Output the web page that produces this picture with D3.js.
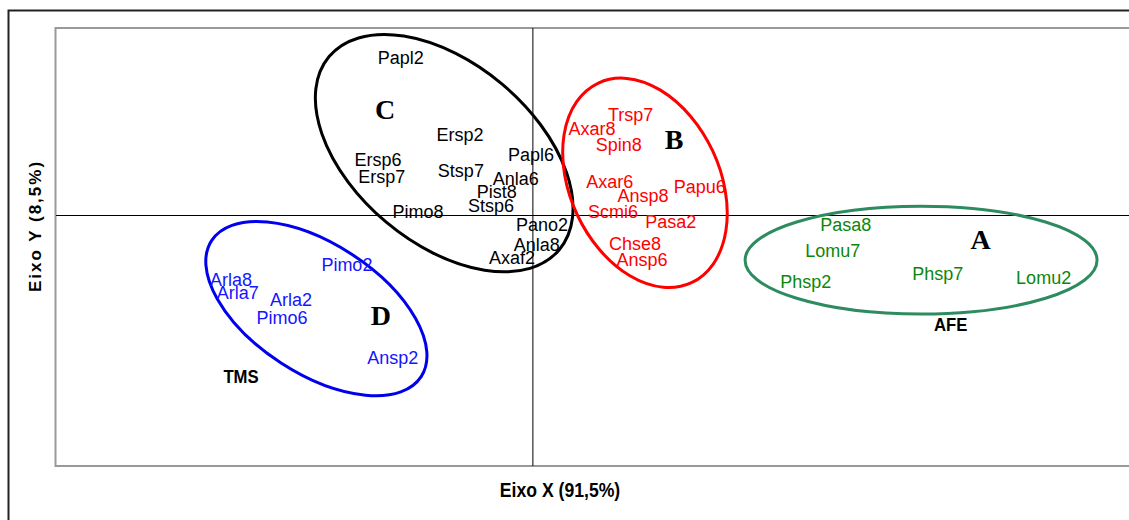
<!DOCTYPE html>
<html>
<head>
<meta charset="utf-8">
<script src="https://cdn.jsdelivr.net/npm/d3@7/dist/d3.min.js"></script>
<style>
  html, body { margin: 0; padding: 0; background: #fff; }
  svg { display: block; }
</style>
</head>
<body>
<svg id="chart" width="1129" height="520"></svg>
<script>
// Ordination scores (axis 1 = Eixo X, axis 2 = Eixo Y) for each species label
const groupC = [
  { name: "Papl2", x: -0.277, y: 0.504 },
  { name: "Ersp2", x: -0.153, y: 0.258 },
  { name: "Ersp6", x: -0.325, y: 0.178 },
  { name: "Ersp7", x: -0.317, y: 0.124 },
  { name: "Stsp7", x: -0.151, y: 0.143 },
  { name: "Papl6", x: -0.004, y: 0.194 },
  { name: "Anla6", x: -0.036, y: 0.117 },
  { name: "Pist8", x: -0.076, y: 0.076 },
  { name: "Stsp6", x: -0.088, y: 0.031 },
  { name: "Pimo8", x: -0.241, y: 0.012 },
  { name: "Pano2", x: 0.019, y: -0.030 },
  { name: "Anla8", x: 0.008, y: -0.094 },
  { name: "Axaf2", x: -0.044, y: -0.135 }
];
const groupB = [
  { name: "Trsp7", x: 0.205, y: 0.322 },
  { name: "Axar8", x: 0.124, y: 0.277 },
  { name: "Spin8", x: 0.180, y: 0.226 },
  { name: "Axar6", x: 0.161, y: 0.108 },
  { name: "Ansp8", x: 0.231, y: 0.063 },
  { name: "Papu6", x: 0.350, y: 0.092 },
  { name: "Scmi6", x: 0.168, y: 0.012 },
  { name: "Pasa2", x: 0.289, y: -0.020 },
  { name: "Chse8", x: 0.214, y: -0.090 },
  { name: "Ansp6", x: 0.229, y: -0.142 }
];
const groupA = [
  { name: "Pasa8", x: 0.656, y: -0.030 },
  { name: "Lomu7", x: 0.629, y: -0.113 },
  { name: "Phsp2", x: 0.572, y: -0.212 },
  { name: "Phsp7", x: 0.849, y: -0.186 },
  { name: "Lomu2", x: 1.071, y: -0.199 }
];
const groupD = [
  { name: "Pimo2", x: -0.390, y: -0.158 },
  { name: "Arla8", x: -0.633, y: -0.206 },
  { name: "Arla7", x: -0.619, y: -0.247 },
  { name: "Arla2", x: -0.507, y: -0.269 },
  { name: "Pimo6", x: -0.526, y: -0.327 },
  { name: "Ansp2", x: -0.294, y: -0.455 }
];

// Group letters and environment labels
const groupLetters = [
  { name: "C", x: -0.310, y: 0.341 },
  { name: "B", x: 0.296, y: 0.245 },
  { name: "A", x: 0.939, y: -0.074 },
  { name: "D", x: -0.319, y: -0.317 }
];
const envLabels = [
  { name: "AFE", x: 0.876, y: -0.346 },
  { name: "TMS", x: -0.612, y: -0.512 }
];

// Enclosing ellipses: centre in scores, semi-axes in axis-1 units, tilt in degrees
const groupEllipses = [
  { group: "C", cx: -0.186, cy: 0.200, rx: 0.315, ry: 0.189, tilt: 40 },
  { group: "B", cx: 0.235, cy: 0.105, rx: 0.231, ry: 0.157, tilt: 65 },
  { group: "A", cx: 0.814, cy: -0.142, rx: 0.369, ry: 0.113, tilt: 0 },
  { group: "D", cx: -0.454, cy: -0.297, rx: 0.262, ry: 0.136, tilt: 33 }
];

const xDomain = [-1.0, 1.25];
const yDomain = [-0.8, 0.6];
const xTitle = "Eixo X (91,5%)";
const yTitle = "Eixo Y (8,5%)";

// ---------------------------------------------------------------
const W = 1129, H = 520;
const plot = { left: 56, top: 28, right: 1129, bottom: 466 };

const colors = {
  C: { text: "#000000", line: "#000000" },
  B: { text: "#ff0000", line: "#ff0000" },
  A: { text: "#0b870b", line: "#2e8b5f" },
  D: { text: "#1515ff", line: "#0000ee" }
};

const svg = d3.select("#chart");

const x = d3.scaleLinear().domain(xDomain).range([plot.left, plot.right]);
const y = d3.scaleLinear().domain(yDomain).range([plot.bottom, plot.top]);
const unit = x(1) - x(0);

// outer frame
svg.append("path")
  .attr("d", `M${W + 5},10.5 H8.5 V${H + 5}`)
  .attr("fill", "none")
  .attr("stroke", "#222")
  .attr("stroke-width", 2);

// plot box
svg.append("rect")
  .attr("x", plot.left - 0.5)
  .attr("y", plot.top)
  .attr("width", plot.right - plot.left + 10)
  .attr("height", plot.bottom - plot.top)
  .attr("fill", "none")
  .attr("stroke", "#999")
  .attr("stroke-width", 2);

// zero axes
svg.append("line")
  .attr("x1", x(0)).attr("x2", x(0))
  .attr("y1", plot.top).attr("y2", plot.bottom)
  .attr("stroke", "#000").attr("stroke-width", 1);
svg.append("line")
  .attr("x1", plot.left).attr("x2", plot.right)
  .attr("y1", Math.round(y(0)) - 0.5).attr("y2", Math.round(y(0)) - 0.5)
  .attr("stroke", "#000").attr("stroke-width", 1);

// ellipses
svg.append("g").selectAll("ellipse")
  .data(groupEllipses)
  .join("ellipse")
  .attr("cx", 0).attr("cy", 0)
  .attr("rx", d => d.rx * unit)
  .attr("ry", d => d.ry * unit)
  .attr("transform", d => `translate(${x(d.cx)},${y(d.cy)}) rotate(${d.tilt})`)
  .attr("fill", "none")
  .attr("stroke", d => colors[d.group].line)
  .attr("stroke-width", 3);

// species labels
const groups = [["C", groupC], ["B", groupB], ["A", groupA], ["D", groupD]];
groups.forEach(([g, rows]) => {
  svg.append("g").selectAll("text")
    .data(rows)
    .join("text")
    .attr("x", d => x(d.x))
    .attr("y", d => y(d.y))
    .attr("dy", "0.35em")
    .attr("text-anchor", "middle")
    .attr("font-family", "Liberation Sans, Arial, sans-serif")
    .attr("font-size", 18)
    .attr("fill", colors[g].text)
    .text(d => d.name);
});

// group letters
svg.append("g").selectAll("text")
  .data(groupLetters)
  .join("text")
  .attr("x", d => x(d.x))
  .attr("y", d => y(d.y))
  .attr("dy", "0.35em")
  .attr("text-anchor", "middle")
  .attr("font-family", "Liberation Serif, Times New Roman, serif")
  .attr("font-weight", "bold")
  .attr("font-size", 28)
  .attr("fill", "#000")
  .text(d => d.name);

// environment labels
svg.append("g").selectAll("text")
  .data(envLabels)
  .join("text")
  .attr("transform", d => `translate(${x(d.x)},${y(d.y)}) scale(0.88,1)`)
  .attr("dy", "0.35em")
  .attr("text-anchor", "middle")
  .attr("font-family", "Liberation Sans, Arial, sans-serif")
  .attr("font-weight", "bold")
  .attr("font-size", 19)
  .attr("fill", "#000")
  .text(d => d.name);

// axis titles
svg.append("text")
  .attr("transform", `translate(560,490) scale(0.84,1)`)
  .attr("dy", "0.35em")
  .attr("text-anchor", "middle")
  .attr("font-family", "Liberation Sans, Arial, sans-serif")
  .attr("font-weight", "bold")
  .attr("font-size", 21)
  .attr("fill", "#000")
  .text(xTitle);

svg.append("text")
  .attr("transform", `translate(35,226) rotate(-90)`)
  .attr("dy", "0.35em")
  .attr("text-anchor", "middle")
  .attr("font-family", "Liberation Sans, Arial, sans-serif")
  .attr("font-weight", "bold")
  .attr("font-size", 17)
  .attr("letter-spacing", 2)
  .attr("fill", "#000")
  .text(yTitle);
</script>
</body>
</html>
